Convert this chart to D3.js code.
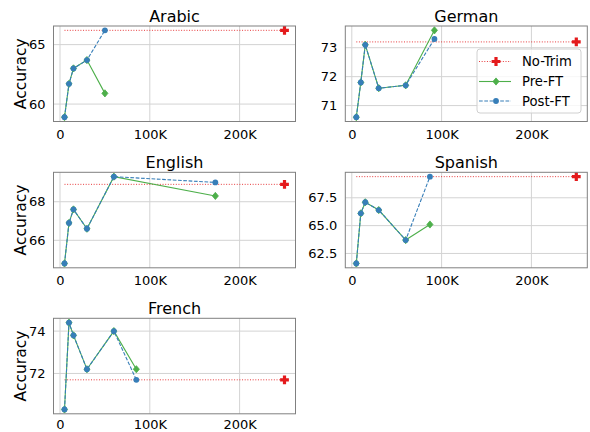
<!DOCTYPE html>
<html><head><meta charset="utf-8">
<script src="https://cdn.jsdelivr.net/npm/d3@7"></script>
<style>body{margin:0;background:#fff}svg{display:block}text{font-family:"DejaVu Sans",sans-serif;fill:#000}</style>
</head><body>
<svg id="chart" width="590" height="432"></svg>
<script>
// ---- data ----
const languages = ["Arabic", "German", "English", "Spanish", "French"];
const seriesNames = ["No-Trim", "Pre-FT", "Post-FT"];
const xTicks = [0, 100000, 200000];
const xTickLabels = ["0", "100K", "200K"];
const noTrimX = 250000;
const noTrimStartX = 5000;

const arabicX = [5000, 10000, 15000, 30000, 50000];
const arabicPre = [58.9, 61.7, 63.0, 63.7, 60.9];
const arabicPost = [58.9, 61.7, 63.0, 63.7, 66.2];

const germanX = [5000, 10000, 15000, 30000, 60000, 92000];
const germanPre = [70.6, 71.8, 73.1, 71.6, 71.7, 73.6];
const germanPost = [70.6, 71.8, 73.1, 71.6, 71.7, 73.3];

const englishX = [5000, 10000, 15000, 30000, 60000, 173000];
const englishPre = [64.8, 66.9, 67.6, 66.6, 69.3, 68.3];
const englishPost = [64.8, 66.9, 67.6, 66.6, 69.3, 69.0];

const spanishX = [5000, 10000, 15000, 30000, 60000, 87000];
const spanishPre = [61.6, 66.1, 67.1, 66.4, 63.7, 65.1];
const spanishPost = [61.6, 66.1, 67.1, 66.4, 63.7, 69.4];

const frenchX = [5000, 10000, 15000, 30000, 60000, 85000];
const frenchPre = [70.3, 74.4, 73.8, 72.2, 74.0, 72.2];
const frenchPost = [70.3, 74.4, 73.8, 72.2, 74.0, 71.7];

const noTrimValues = [66.2, 73.2, 68.9, 69.4, 71.7];

const yTicksArabic = [60, 65];
const yTicksGerman = [71, 72, 73];
const yTicksEnglish = [66, 68];
const yTicksSpanish = [62.5, 65.0, 67.5];
const yTicksFrench = [72, 74];

// ---- layout / style ----
const panels = [
  {name: languages[0], x: arabicX, pre: arabicPre, post: arabicPost, nt: noTrimValues[0], ticks: yTicksArabic, fmt: d3.format("d"), col: 0, row: 0},
  {name: languages[1], x: germanX, pre: germanPre, post: germanPost, nt: noTrimValues[1], ticks: yTicksGerman, fmt: d3.format("d"), col: 1, row: 0, legend: true},
  {name: languages[2], x: englishX, pre: englishPre, post: englishPost, nt: noTrimValues[2], ticks: yTicksEnglish, fmt: d3.format("d"), col: 0, row: 1},
  {name: languages[3], x: spanishX, pre: spanishPre, post: spanishPost, nt: noTrimValues[3], ticks: yTicksSpanish, fmt: d3.format(".1f"), col: 1, row: 1},
  {name: languages[4], x: frenchX, pre: frenchPre, post: frenchPost, nt: noTrimValues[4], ticks: yTicksFrench, fmt: d3.format("d"), col: 0, row: 2}
];
const colLeft = [53.5, 345.3], panelW = 242;
const rowTop = [26, 172.3, 318.3], panelH = 95.5;
const rowXPad = [8.4, 8.4, 6.2];
const RED = "#e41a1c", GREEN = "#4daf4a", BLUE = "#377eb8";
const GRID = "#d3d3d3", SPINE = "#808080";
const TICK_FS = 13;

const svg = d3.select("#chart");
const xDomainPad = (noTrimX - noTrimStartX) * 0.05;

function diamond(g, cx, cy, r, color) {
  g.append("path").attr("d", `M${cx},${cy - r}L${cx + r * 0.85},${cy}L${cx},${cy + r}L${cx - r * 0.85},${cy}Z`)
    .attr("fill", color).attr("stroke", color).attr("stroke-width", 0.8);
}
function plusMarker(g, cx, cy, color) {
  const a = 4.4, b = 1.6;
  g.append("path").attr("d", `M${cx - b},${cy - a}H${cx + b}V${cy - b}H${cx + a}V${cy + b}H${cx + b}V${cy + a}H${cx - b}V${cy + b}H${cx - a}V${cy - b}H${cx - b}Z`)
    .attr("fill", color);
}
function circle(g, cx, cy, color) {
  g.append("circle").attr("cx", cx).attr("cy", cy).attr("r", 2.9).attr("fill", color);
}

panels.forEach(p => {
  const left = colLeft[p.col], top = rowTop[p.row];
  const x = d3.scaleLinear().domain([noTrimStartX - xDomainPad, noTrimX + xDomainPad]).range([left, left + panelW]);
  const all = p.pre.concat(p.post, [p.nt]);
  const [lo, hi] = d3.extent(all);
  const pad = (hi - lo) * 0.05;
  const y = d3.scaleLinear().domain([lo - pad, hi + pad]).range([top + panelH, top]);
  const g = svg.append("g");

  // grid
  g.selectAll(".gx").data(xTicks).join("line")
    .attr("x1", d => x(d)).attr("x2", d => x(d)).attr("y1", top).attr("y2", top + panelH)
    .attr("stroke", GRID).attr("stroke-width", 1);
  g.selectAll(".gy").data(p.ticks).join("line")
    .attr("x1", left).attr("x2", left + panelW).attr("y1", d => y(d)).attr("y2", d => y(d))
    .attr("stroke", GRID).attr("stroke-width", 1);

  // axes tick labels via d3 axes
  const xAxis = d3.axisBottom(x).tickValues(xTicks).tickFormat((d, i) => xTickLabels[i]).tickSize(0).tickPadding(rowXPad[p.row]);
  const xa = g.append("g").attr("transform", `translate(0,${top + panelH})`).call(xAxis);
  xa.select(".domain").remove();
  xa.selectAll("text").attr("font-size", TICK_FS).attr("font-family", "DejaVu Sans").attr("fill", "#000");

  const yAxis = d3.axisLeft(y).tickValues(p.ticks).tickFormat(p.fmt).tickSize(0).tickPadding(8);
  const ya = g.append("g").attr("transform", `translate(${left},0)`).call(yAxis);
  ya.select(".domain").remove();
  ya.selectAll("text").attr("font-size", TICK_FS).attr("font-family", "DejaVu Sans").attr("fill", "#000");

  const plot = g.append("g");

  // no-trim line
  plot.append("line").attr("x1", x(noTrimStartX)).attr("x2", x(noTrimX)).attr("y1", y(p.nt)).attr("y2", y(p.nt))
    .attr("stroke", RED).attr("stroke-width", 1).attr("stroke-dasharray", "1,1.65").attr("opacity", 0.85);

  const line = d3.line().x(d => x(d[0])).y(d => y(d[1]));
  const preData = p.x.map((v, i) => [v, p.pre[i]]);
  const postData = p.x.map((v, i) => [v, p.post[i]]);
  plot.append("path").attr("d", line(preData)).attr("fill", "none").attr("stroke", GREEN).attr("stroke-width", 1.1);
  preData.forEach(d => diamond(plot, x(d[0]), y(d[1]), 3.6, GREEN));
  plot.append("path").attr("d", line(postData)).attr("fill", "none").attr("stroke", BLUE).attr("stroke-width", 1.1).attr("stroke-dasharray", "3.7,1.6");
  postData.forEach(d => circle(plot, x(d[0]), y(d[1]), BLUE));
  plusMarker(plot, x(noTrimX), y(p.nt), RED);

  // spines
  g.append("rect").attr("x", left).attr("y", top).attr("width", panelW).attr("height", panelH)
    .attr("fill", "none").attr("stroke", SPINE).attr("stroke-width", 1);

  // title
  g.append("text").attr("x", left + panelW / 2).attr("y", top - 4).attr("text-anchor", "middle")
    .attr("font-size", 16).text(p.name);

  // y label
  if (p.col === 0) {
    g.append("text").attr("transform", `translate(21,${top + panelH / 2}) rotate(-90)`)
      .attr("text-anchor", "middle").attr("dominant-baseline", "central").attr("font-size", 15.5).text("Accuracy");
  }

  if (p.legend) {
    const lg = svg.append("g");
    lg.append("rect").attr("x", 477).attr("y", 49).attr("width", 104).attr("height", 64).attr("rx", 3)
      .attr("fill", "#fff").attr("fill-opacity", 0.8).attr("stroke", "#d0d0d0").attr("stroke-width", 1);
    const ys = [61.5, 81.5, 101];
    const lx1 = 479, lx2 = 511, mx = 496;
    seriesNames.forEach((n, i) => {
      const yy = ys[i];
      const l = lg.append("line").attr("x1", lx1).attr("x2", lx2).attr("y1", yy).attr("y2", yy).attr("stroke-width", 1.1);
      if (i === 0) { l.attr("stroke", RED).attr("stroke-dasharray", "1,1.65").attr("opacity", 0.85); plusMarker(lg, mx, yy, RED); }
      if (i === 1) { l.attr("stroke", GREEN); diamond(lg, mx, yy, 3.6, GREEN); }
      if (i === 2) { l.attr("stroke", BLUE).attr("stroke-dasharray", "3.7,1.6"); circle(lg, mx, yy, BLUE); }
      lg.append("text").attr("x", 522).attr("y", yy).attr("dominant-baseline", "central").attr("font-size", 13.2).text(n);
    });
  }
});
</script>
</body></html>
